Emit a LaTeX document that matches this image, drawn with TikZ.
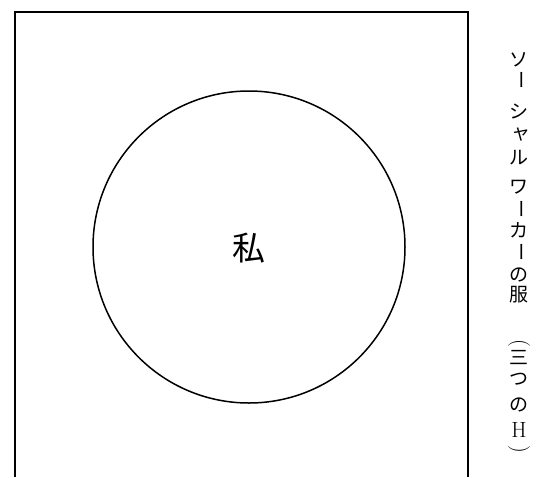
\documentclass[tikz,border=0pt]{standalone}
\usepackage{fontspec}
\newfontfamily\cjk{Noto Sans CJK JP}
\tikzset{
  frameline/.style={line width=1.3pt, line cap=butt},
  ring/.style={circle, draw, line width=1.5pt, minimum size=312pt, inner sep=0pt},
  vch/.style={inner sep=0pt, font=\cjk\fontsize{19}{19}\selectfont},
  vlat/.style={inner sep=0pt, font=\fontsize{22}{22}\selectfont},
}
\begin{document}
\begin{tikzpicture}[x=1pt,y=-1pt]
\useasboundingbox (0,0) rectangle (538,477);
\coordinate (bl) at (15,477);
\coordinate (tl) at (15,12);
\coordinate (tr) at (468,12);
\coordinate (br) at (468,477);
\draw[frameline] (bl) -- (tl) -- (tr) -- (br);
\node[ring] (me) at (249,247) {};
\node[inner sep=0pt, font=\cjk\fontsize{33}{33}\selectfont] (watashi) at (249,248) {私};
% vertical caption
\node[vch] (v1) at (519,60) {ソ};
\node[vch, rotate=-90] (v2) at (519,80) {ー};
\node[vch] (v3) at (519,111) {シ};
\node[vch] (v4) at (521,135) {ャ};
\node[vch] (v5) at (519,158) {ル};
\node[vch] (v6) at (519,187) {ワ};
\node[vch, rotate=-90] (v7) at (519,209) {ー};
\node[vch] (v8) at (519,230) {カ};
\node[vch, rotate=-90] (v9) at (519,252) {ー};
\node[vch] (v10) at (519,275) {の};
\node[vch] (v11) at (519,295) {服};
\node[vlat, rotate=-90] (v12) at (519,343) {(};
\node[vch] (v13) at (519,358) {三};
\node[vch] (v14) at (519,379) {つ};
\node[vch] (v15) at (519,405) {の};
\node[vlat] (v16) at (519,430) {H};
\node[vlat, rotate=-90] (v17) at (519,449) {)};
\end{tikzpicture}
\end{document}
